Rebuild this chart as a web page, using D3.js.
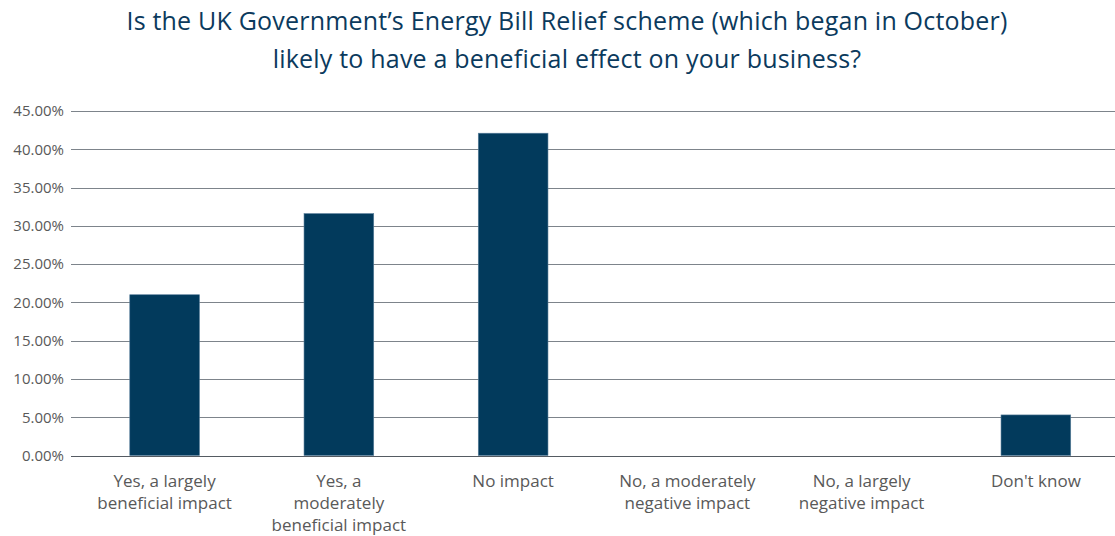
<!DOCTYPE html>
<html>
<head>
<meta charset="utf-8">
<script src="https://cdn.jsdelivr.net/npm/d3@7"></script>
<style>
  html, body { margin: 0; padding: 0; background: #fff; }
  svg { display: block; }
</style>
</head>
<body>
<svg id="chart" width="1115" height="536"></svg>
<script>
// Survey responses: share of businesses per answer
const categories = [
  ["Yes, a largely", "beneficial impact"],
  ["Yes, a", "moderately", "beneficial impact"],
  ["No impact"],
  ["No, a moderately", "negative impact"],
  ["No, a largely", "negative impact"],
  ["Don't know"]
];
const values = [21.0, 31.6, 42.1, 0, 0, 5.3];
const yTicks = [0, 5, 10, 15, 20, 25, 30, 35, 40, 45];
const titleLines = [
  "Is the UK Government\u2019s Energy Bill Relief scheme (which began in October)",
  "likely to have a beneficial effect on your business?"
];

const font = "'Open Sans', Lato, sans-serif";
const svg = d3.select("#chart");
const W = 1115;

const margin = { left: 77.5, right: -8, top: 111, bottom: 455.5 };
const x = d3.scaleBand()
  .domain(d3.range(categories.length))
  .range([margin.left, W - margin.right])
  .paddingInner(0.6)
  .paddingOuter(0.3);
const y = d3.scaleLinear().domain([0, 45]).range([margin.bottom, margin.top]);

// Title
svg.append("g").selectAll("text")
  .data(titleLines)
  .join("text")
  .attr("x", 567)
  .attr("y", (d, i) => 30 + i * 38)
  .attr("text-anchor", "middle")
  .attr("fill", "#0b3a5d")
  .style("font-family", font)
  .style("font-size", "25px")
  .style("letter-spacing", "0.2px")
  .text(d => d);

// Gridlines and y labels
const yAxis = d3.axisLeft(y)
  .tickValues(yTicks)
  .tickSize(0)
  .tickPadding(0)
  .tickFormat(d => d.toFixed(2) + "%");
const gy = svg.append("g").attr("transform", "translate(64,0)").call(yAxis);
gy.select(".domain").remove();
gy.selectAll("text")
  .attr("fill", "#595959")
  .style("font-family", font)
  .style("font-size", "15px");

svg.append("g").selectAll("line")
  .data(yTicks)
  .join("line")
  .attr("x1", 71)
  .attr("x2", W)
  .attr("y1", d => Math.round(y(d)) + 0.5)
  .attr("y2", d => Math.round(y(d)) + 0.5)
  .attr("stroke", d => d === 0 ? "#555b62" : "#7d848b")
  .attr("stroke-width", 1);

// Bars
svg.append("g").selectAll("rect")
  .data(values)
  .join("rect")
  .attr("x", (d, i) => x(i))
  .attr("width", x.bandwidth())
  .attr("y", d => y(d))
  .attr("height", d => y(0) - y(d))
  .attr("fill", "#023a5c")
  .attr("stroke", d => d > 0 ? "#5a7f9b" : "none")
  .attr("stroke-width", 0.6);

// Category labels
const gx = svg.append("g");
categories.forEach((lines, i) => {
  gx.append("text")
    .attr("text-anchor", "middle")
    .attr("fill", "#595959")
    .style("font-family", font)
    .style("font-size", "17px")
    .selectAll("tspan")
    .data(lines)
    .join("tspan")
    .attr("x", x(i) + x.bandwidth() / 2)
    .attr("y", (d, j) => 487 + j * 22)
    .text(d => d);
});
</script>
</body>
</html>
